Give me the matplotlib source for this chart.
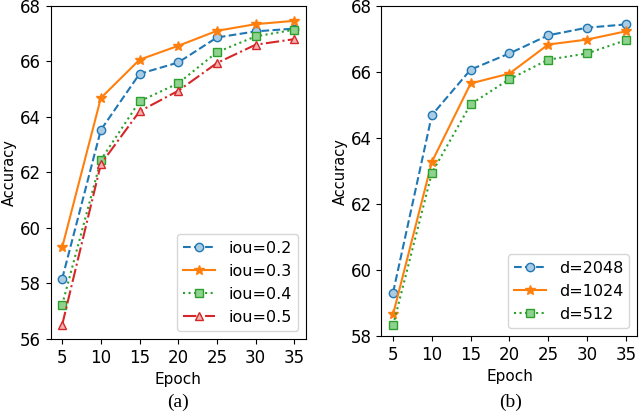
import matplotlib.pyplot as plt

epochs = [5, 10, 15, 20, 25, 30, 35]

# (a) iou thresholds
iou_02 = [58.17, 63.53, 65.55, 65.96, 66.86, 67.08, 67.18]
iou_03 = [59.30, 64.68, 66.06, 66.56, 67.10, 67.34, 67.46]
iou_04 = [57.23, 62.45, 64.56, 65.21, 66.33, 66.90, 67.14]
iou_05 = [56.51, 62.30, 64.20, 64.94, 65.94, 66.60, 66.80]

# (b) feature dimension
d_2048 = [59.32, 64.70, 66.08, 66.57, 67.12, 67.35, 67.45]
d_1024 = [58.66, 63.28, 65.66, 65.96, 66.84, 66.99, 67.24]
d_512 = [58.33, 62.95, 65.03, 65.79, 66.38, 66.57, 66.97]

blue, orange, green, red = '#1f77b4', '#ff7f0e', '#2ca02c', '#d62728'

fig = plt.figure(figsize=(6.4, 4.17), dpi=100)
ax1 = fig.add_axes([0.079, 0.187, 0.399, 0.799])
ax2 = fig.add_axes([0.596, 0.194, 0.400, 0.791])

ms = 6
ax1.plot(epochs, iou_02, marker='o', color=blue, linestyle='--', markersize=ms, mfc='#a9cbe3', label='iou=0.2')
ax1.plot(epochs, iou_03, marker='*', color=orange, linestyle='-', markersize=ms + 1, label='iou=0.3')
ax1.plot(epochs, iou_04, marker='s', color=green, linestyle=':', markersize=ms, mfc='#8fd18f', label='iou=0.4')
ax1.plot(epochs, iou_05, marker='^', color=red, linestyle='-.', markersize=ms, mfc='#f2b0b0', label='iou=0.5')
ax1.set_ylim(56, 68)
ax1.set_yticks([56, 58, 60, 62, 64, 66, 68])
ax1.legend(loc='lower right', fontsize=11.5)

ax2.plot(epochs, d_2048, marker='o', color=blue, linestyle='--', markersize=ms, mfc='#a9cbe3', label='d=2048')
ax2.plot(epochs, d_1024, marker='*', color=orange, linestyle='-', markersize=ms + 1, label='d=1024')
ax2.plot(epochs, d_512, marker='s', color=green, linestyle=':', markersize=ms, mfc='#8fd18f', label='d=512')
ax2.set_ylim(58, 68)
ax2.set_yticks([58, 60, 62, 64, 66, 68])
ax2.legend(loc='lower right', fontsize=11.5)

for ax in (ax1, ax2):
    ax.set_xticks(epochs)
    ax.set_xlabel('Epoch', fontsize=11)
    ax.set_ylabel('Accuracy', fontsize=10.5, labelpad=2)
    ax.tick_params(labelsize=12)

fig.text(0.278, 0.035, '(a)', family='Liberation Serif', fontsize=14, ha='center', va='center')
fig.text(0.797, 0.035, '(b)', family='Liberation Serif', fontsize=14, ha='center', va='center')

plt.savefig('out.png', dpi=100)
